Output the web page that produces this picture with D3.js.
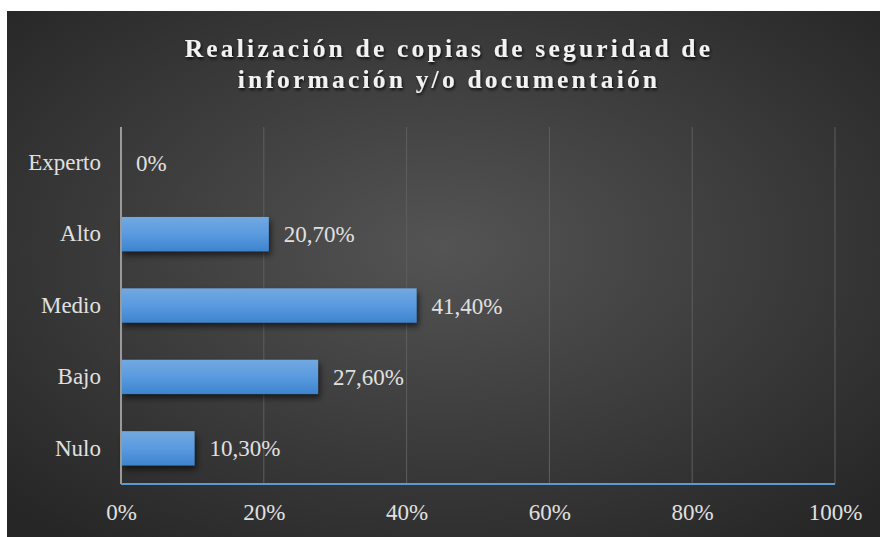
<!DOCTYPE html>
<html>
<head>
<meta charset="utf-8">
<script src="https://cdn.jsdelivr.net/npm/d3@7"></script>
<style>
  body { margin: 0; background: #ffffff; }
  svg { display: block; }
</style>
</head>
<body>
<div id="chart"></div>
<script>
// chart data
const categories = ['Experto', 'Alto', 'Medio', 'Bajo', 'Nulo'];
const values = [0, 20.7, 41.4, 27.6, 10.3];
const valueLabels = ['0%', '20,70%', '41,40%', '27,60%', '10,30%'];
const xTicks = [0, 20, 40, 60, 80, 100];
const titleLines = ['Realización de copias de seguridad de', 'información y/o documentaión'];

const W = 880, H = 537;
const margin = { top: 127, right: 45, bottom: 53, left: 121 };
const width = W - margin.left - margin.right;
const height = H - margin.top - margin.bottom;

const svg = d3.select('#chart')
  .append('svg')
  .attr('width', W)
  .attr('height', H);

const defs = svg.append('defs');

const bg = defs.append('radialGradient')
  .attr('id', 'bg')
  .attr('cx', '50%').attr('cy', '45%').attr('r', '70%');
bg.append('stop').attr('offset', '0%').attr('stop-color', '#545454');
bg.append('stop').attr('offset', '100%').attr('stop-color', '#262626');

const barGrad = defs.append('linearGradient')
  .attr('id', 'bar')
  .attr('x1', 0).attr('y1', 0).attr('x2', 0).attr('y2', 1);
barGrad.append('stop').attr('offset', '0%').attr('stop-color', '#72a9df');
barGrad.append('stop').attr('offset', '50%').attr('stop-color', '#5a9ae0');
barGrad.append('stop').attr('offset', '100%').attr('stop-color', '#3d84cd');

const barShadow = defs.append('filter')
  .attr('id', 'barShadow')
  .attr('x', '-10%').attr('y', '-30%').attr('width', '130%').attr('height', '180%');
barShadow.append('feDropShadow')
  .attr('dx', 2).attr('dy', 4).attr('stdDeviation', 3)
  .attr('flood-color', '#000').attr('flood-opacity', 0.6);

const textShadow = defs.append('filter')
  .attr('id', 'textShadow')
  .attr('x', '-5%').attr('y', '-30%').attr('width', '110%').attr('height', '170%');
textShadow.append('feDropShadow')
  .attr('dx', 1).attr('dy', 2).attr('stdDeviation', 1.5)
  .attr('flood-color', '#000').attr('flood-opacity', 0.8);

// dark chart area
svg.append('rect')
  .attr('x', 7).attr('y', 11)
  .attr('width', W - 7).attr('height', H - 11)
  .attr('fill', 'url(#bg)');

// title
svg.append('text')
  .attr('x', 449)
  .attr('y', 57)
  .attr('text-anchor', 'middle')
  .attr('font-family', '"Liberation Serif", "Times New Roman", serif')
  .attr('font-weight', 'bold')
  .attr('font-size', 25.5)
  .attr('letter-spacing', 3.2)
  .attr('fill', '#f2f2f2')
  .attr('filter', 'url(#textShadow)')
  .selectAll('tspan')
  .data(titleLines)
  .join('tspan')
  .attr('x', 449)
  .attr('dy', (d, i) => i === 0 ? 0 : 31)
  .text(d => d);

const g = svg.append('g')
  .attr('transform', `translate(${margin.left},${margin.top})`);

const x = d3.scaleLinear().domain([0, 100]).range([0, width]);
const y = d3.scaleBand().domain(categories).range([0, height]).paddingInner(0.52).paddingOuter(0.26);

const font = '"Liberation Serif", "Times New Roman", serif';
const labelColor = '#e0e0e0';

// gridlines
g.append('g')
  .selectAll('line')
  .data(xTicks.filter(t => t > 0))
  .join('line')
  .attr('x1', d => x(d)).attr('x2', d => x(d))
  .attr('y1', 0).attr('y2', height)
  .attr('stroke', '#5e5e5e')
  .attr('stroke-width', 1);

// x axis labels
const xAxis = g.append('g')
  .attr('transform', `translate(0,${height})`)
  .call(d3.axisBottom(x).tickValues(xTicks).tickFormat(d => d + '%').tickSize(0).tickPadding(20));
xAxis.select('.domain').remove();
xAxis.selectAll('text')
  .attr('font-family', font)
  .attr('font-size', 23)
  .attr('fill', labelColor);

// y axis labels
const yAxis = g.append('g')
  .call(d3.axisLeft(y).tickSize(0).tickPadding(20));
yAxis.select('.domain').remove();
yAxis.selectAll('text')
  .attr('font-family', font)
  .attr('font-size', 23)
  .attr('fill', labelColor);

// bars
g.append('g')
  .selectAll('rect')
  .data(categories.map((c, i) => ({ c, v: values[i] })))
  .join('rect')
  .attr('x', 0)
  .attr('y', d => y(d.c))
  .attr('width', d => x(d.v))
  .attr('height', y.bandwidth())
  .attr('fill', 'url(#bar)')
  .attr('filter', 'url(#barShadow)');

// value labels
g.append('g')
  .selectAll('text')
  .data(categories.map((c, i) => ({ c, v: values[i], label: valueLabels[i] })))
  .join('text')
  .attr('x', d => x(d.v) + 15)
  .attr('y', d => y(d.c) + y.bandwidth() / 2)
  .attr('dy', '0.35em')
  .attr('font-family', font)
  .attr('font-size', 23)
  .attr('fill', labelColor)
  .text(d => d.label);

// left axis line
g.append('line')
  .attr('x1', 0).attr('x2', 0)
  .attr('y1', 0).attr('y2', height)
  .attr('stroke', '#9a9a9a')
  .attr('stroke-width', 2);

// bottom axis line
g.append('line')
  .attr('x1', 0).attr('x2', width)
  .attr('y1', height).attr('y2', height)
  .attr('stroke', '#5b9bd5')
  .attr('stroke-width', 2);
</script>
</body>
</html>
